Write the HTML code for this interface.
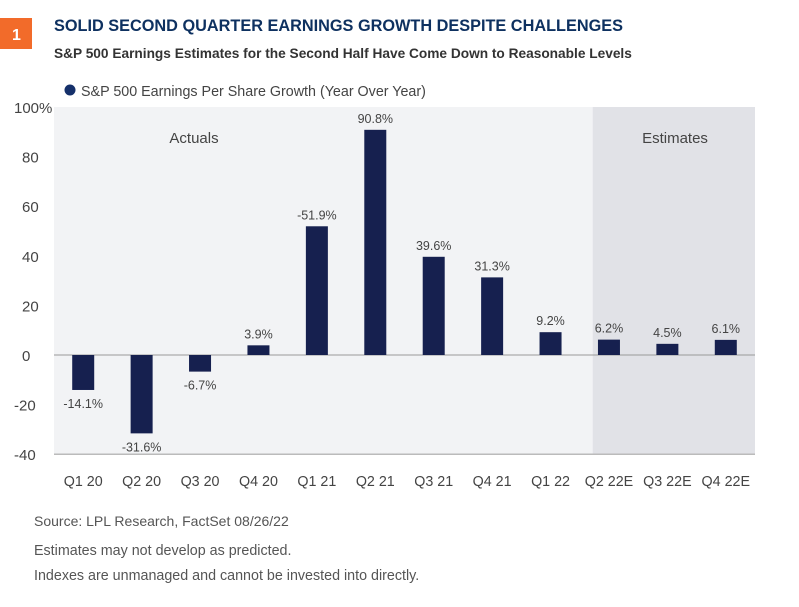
<!DOCTYPE html>
<html><head><meta charset="utf-8"><style>
body{margin:0;background:#fff;width:799px;height:602px;overflow:hidden;font-family:"Liberation Sans",sans-serif;}
</style></head><body>
<svg width="799" height="602" xmlns="http://www.w3.org/2000/svg" font-family="Liberation Sans, sans-serif">
<rect x="0" y="18" width="32" height="31" fill="#f26b2a"/>
<text x="12" y="40" fill="#fff" font-size="16" font-weight="bold">1</text>
<text x="54" y="31" fill="#0e3160" font-size="16.3" font-weight="bold">SOLID SECOND QUARTER EARNINGS GROWTH DESPITE CHALLENGES</text>
<text x="54" y="58" fill="#333" font-size="13.7" font-weight="bold">S&amp;P 500 Earnings Estimates for the Second Half Have Come Down to Reasonable Levels</text>
<circle cx="70" cy="90" r="5.5" fill="#15306a"/>
<text x="81" y="96" fill="#444" font-size="14.3">S&amp;P 500 Earnings Per Share Growth (Year Over Year)</text>
<g id="plot"></g>
<text x="34" y="526" fill="#555" font-size="14">Source: LPL Research, FactSet  08/26/22</text>
<text x="34" y="555" fill="#555" font-size="14.3">Estimates may not develop as predicted.</text>
<text x="34" y="580" fill="#555" font-size="14.3">Indexes are unmanaged and cannot be invested into directly.</text>
</svg>
<script>
const categories=["Q1 20","Q2 20","Q3 20","Q4 20","Q1 21","Q2 21","Q3 21","Q4 21","Q1 22","Q2 22E","Q3 22E","Q4 22E"];
const values=[-14.1,-31.6,-6.7,3.9,51.9,90.8,39.6,31.3,9.2,6.2,4.5,6.1];
const valueLabels=["-14.1%","-31.6%","-6.7%","3.9%","-51.9%","90.8%","39.6%","31.3%","9.2%","6.2%","4.5%","6.1%"];
const yTicks=[100,80,60,40,20,0,-20,-40];
const estimateStart=9;
const NS="http://www.w3.org/2000/svg";
const g=document.getElementById('plot');
const X0=54,X1=755,band=(X1-X0)/categories.length;
const y=v=>355-v*2.48;
const x=i=>X0+band*i;
function mk(t,a){const e=document.createElementNS(NS,t);for(const k in a)e.setAttribute(k,a[k]);g.appendChild(e);return e;}
let bg=mk('rect',{x:X0,y:y(100),width:X1-X0,height:y(-40)-y(100),fill:'#f2f3f5'});


let es=mk('rect',{x:x(estimateStart)+13,y:y(100),width:X1-x(estimateStart)-13,height:y(-40)-y(100),fill:'#e1e2e7'});


let t1=mk('text',{x:194,y:143,'font-size':15,fill:'#444','text-anchor':'middle'});t1.textContent='Actuals';


let t2=mk('text',{x:675,y:143,'font-size':15,fill:'#444','text-anchor':'middle'});t2.textContent='Estimates';


yTicks.forEach(v=>{const t=mk('text',{x:v===100?14:(v<0?14:22),y:y(v)+6,'font-size':15,fill:'#444'});
t.textContent=v===100?'100%':String(v);

});
let zl=mk('line',{x1:X0,x2:X1,y1:y(0),y2:y(0),stroke:'#999','stroke-width':1});


let bl=mk('line',{x1:X0,x2:X1,y1:y(-40),y2:y(-40),stroke:'#bbb','stroke-width':1.5});


categories.forEach((c,i)=>{
 const v=values[i],cx=x(i)+band/2,w=22;
 const b=mk('rect',{x:cx-w/2,y:Math.min(y(v),y(0)),width:w,height:Math.abs(y(v)-y(0)),fill:'#16204f'});
 
 
 const l=mk('text',{x:cx,y:v>=0?y(v)-7:y(v)+18,'font-size':12.5,fill:'#444','text-anchor':'middle'});
 l.textContent=valueLabels[i];
 
 
 const xl=mk('text',{x:cx,y:486,'font-size':14.3,fill:'#444','text-anchor':'middle'});
 xl.textContent=c;
 
 
});
</script>
</body></html>
